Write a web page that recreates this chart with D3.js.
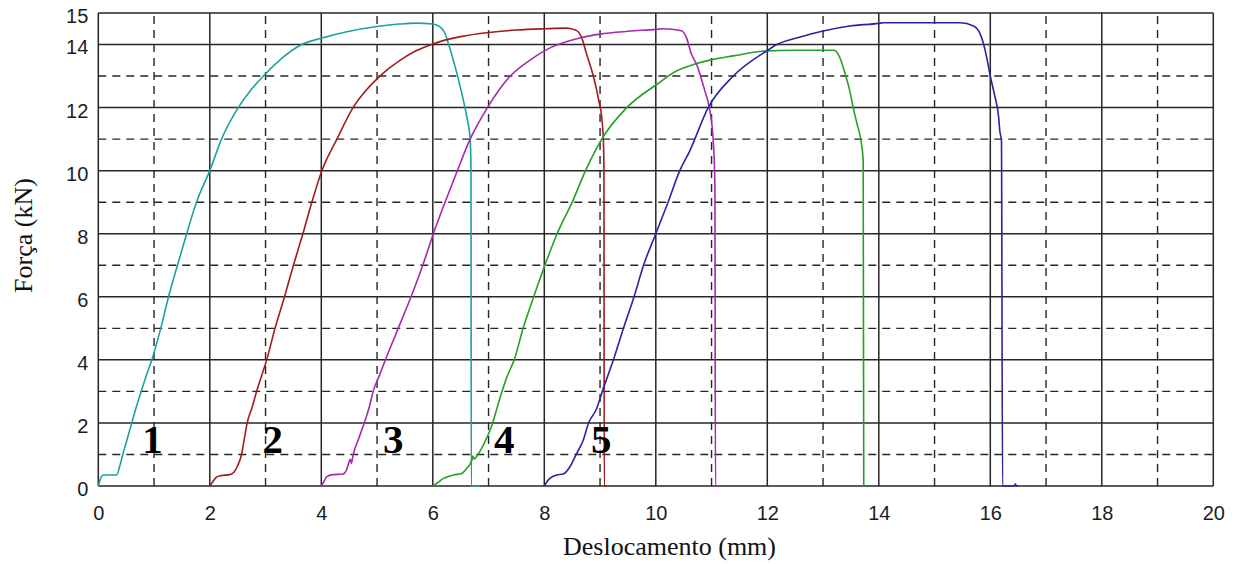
<!DOCTYPE html>
<html>
<head>
<meta charset="utf-8">
<script src="https://cdn.jsdelivr.net/npm/d3@7"></script>
<style>
  html, body { margin: 0; padding: 0; background: #fff; }
  svg { display: block; }
</style>
</head>
<body>
<svg id="chart" width="1242" height="564"></svg>
<script>
// Força × deslocamento — ensaios 1 a 5 (x em mm, y em kN)
const ensaio1 = [[0,0],[0.02,0.12],[0.05,0.28],[0.09,0.35],[0.33,0.35],[0.38,0.6],[0.44,1.0],[0.52,1.5],[0.6,2.0],[0.68,2.5],[0.77,3.0],[0.86,3.5],[0.96,4.0],[1.12,5.0],[1.26,6.0],[1.42,7.0],[1.585,8.0],[1.76,9.0],[2.0,10.0],[2.21,11.0],[2.51,12.0],[2.72,12.52],[2.96,13.0],[3.25,13.5],[3.65,14.0],[4.0,14.2],[4.5,14.42],[5.0,14.57],[5.4,14.65],[5.7,14.68],[6.0,14.65],[6.13,14.56],[6.22,14.35],[6.28,14.03],[6.4,13.3],[6.52,12.45],[6.61,11.7],[6.67,11.0],[6.685,10.1],[6.69,0],[6.85,0]];
const ensaio2 = [[2.0,0],[2.06,0.15],[2.12,0.28],[2.2,0.33],[2.36,0.36],[2.44,0.45],[2.5,0.65],[2.57,1.0],[2.62,1.5],[2.67,2.0],[2.76,2.5],[2.84,3.0],[2.93,3.5],[3.02,4.0],[3.17,5.0],[3.34,6.0],[3.5,7.0],[3.67,8.0],[3.83,9.0],[4.01,10.0],[4.28,11.0],[4.57,12.0],[4.78,12.5],[5.05,13.0],[5.41,13.5],[5.7,13.8],[6.0,14.02],[6.5,14.25],[7.0,14.38],[7.5,14.46],[8.0,14.5],[8.4,14.52],[8.58,14.44],[8.67,14.22],[8.76,13.69],[8.88,13.0],[8.98,12.2],[9.03,11.69],[9.06,10.95],[9.07,10.0],[9.075,0],[9.12,0]];
const ensaio3 = [[4.0,0],[4.05,0.15],[4.1,0.3],[4.2,0.36],[4.39,0.38],[4.45,0.5],[4.48,0.66],[4.52,0.85],[4.54,0.72],[4.57,0.98],[4.67,1.5],[4.77,2.0],[4.86,2.5],[4.93,3.0],[5.04,3.5],[5.15,4.0],[5.38,5.0],[5.61,6.0],[5.82,7.0],[6.01,8.0],[6.22,9.0],[6.44,10.0],[6.67,11.0],[6.98,12.0],[7.39,13.0],[7.7,13.45],[8.0,13.8],[8.67,14.22],[9.0,14.33],[9.5,14.42],[10.0,14.48],[10.13,14.5],[10.46,14.44],[10.55,14.22],[10.64,13.69],[10.73,13.38],[10.88,12.53],[10.96,12.0],[11.03,10.95],[11.06,9.6],[11.07,0],[11.15,0]];
const ensaio4 = [[6.0,0],[6.1,0.12],[6.19,0.24],[6.37,0.35],[6.52,0.4],[6.61,0.56],[6.7,0.82],[6.72,0.95],[6.74,0.86],[6.82,1.03],[6.95,1.46],[7.06,1.93],[7.15,2.46],[7.23,2.93],[7.33,3.46],[7.46,4.0],[7.62,5.0],[7.81,6.0],[8.01,7.0],[8.23,8.0],[8.5,9.0],[8.74,10.0],[8.92,10.65],[9.03,11.0],[9.48,12.0],[10.02,12.74],[10.37,13.16],[10.7,13.38],[11.03,13.53],[11.39,13.64],[11.99,13.8],[12.5,13.82],[13.2,13.82],[13.3,13.59],[13.39,13.11],[13.48,12.53],[13.54,12.0],[13.61,11.48],[13.68,10.95],[13.72,10.32],[13.73,0]];
const ensaio5 = [[8.0,0],[8.05,0.14],[8.1,0.24],[8.22,0.35],[8.34,0.38],[8.46,0.61],[8.58,1.03],[8.7,1.46],[8.79,1.98],[8.94,2.46],[9.04,3.0],[9.24,4.0],[9.42,5.0],[9.61,6.0],[9.78,7.0],[10.0,8.0],[10.22,9.0],[10.43,10.0],[10.61,10.63],[10.94,12.0],[11.39,13.0],[11.99,13.8],[12.17,14.0],[12.59,14.24],[13.0,14.43],[13.48,14.59],[14.0,14.67],[14.08,14.69],[15.46,14.69],[15.7,14.59],[15.82,14.33],[15.91,13.8],[16.0,13.0],[16.08,12.37],[16.15,11.69],[16.17,11.27],[16.2,10.95],[16.22,0],[16.43,0],[16.45,0.06],[16.47,0],[16.5,0]];

const seriesNames = ["1", "2", "3", "4", "5"];
const seriesData = [ensaio1, ensaio2, ensaio3, ensaio4, ensaio5];
const seriesColors = ["#1fa0a0", "#a31c1c", "#a52aae", "#24a024", "#2626a0"];

// rótulos numéricos das curvas (posição em mm, kN)
const labelX = [0.97, 3.13, 5.29, 7.28, 9.02];
const labelY = [1.04, 1.04, 1.04, 1.04, 1.04];

const xTicks = [0, 2, 4, 6, 8, 10, 12, 14, 16, 18, 20];
const xMinor = [1, 3, 5, 7, 9, 11, 13, 15, 17, 19];
const yTicks = [0, 2, 4, 6, 8, 10, 12, 14, 15];
const yMinor = [1, 3, 5, 7, 9, 11, 13];

const xTitle = "Deslocamento (mm)";
const yTitle = "Força (kN)";

const svg = d3.select("#chart");
const x = d3.scaleLinear().domain([0, 20]).range([98.3, 1213.3]);
const y = d3.scaleLinear().domain([0, 15]).range([486, 13]);

const gridColor = "#262626";
const grid = svg.append("g");

// grade tracejada
grid.selectAll("line.hmin").data(yMinor).join("line")
  .attr("x1", x(0)).attr("x2", x(20))
  .attr("y1", d => y(d)).attr("y2", d => y(d))
  .attr("stroke", gridColor).attr("stroke-width", 1.4).attr("stroke-dasharray", "8,6");
grid.selectAll("line.vmin").data(xMinor).join("line")
  .attr("y1", y(0)).attr("y2", y(15))
  .attr("x1", d => x(d)).attr("x2", d => x(d))
  .attr("stroke", gridColor).attr("stroke-width", 1.4).attr("stroke-dasharray", "8,6");

// grade contínua
grid.selectAll("line.hmaj").data(yTicks).join("line")
  .attr("x1", x(0)).attr("x2", x(20))
  .attr("y1", d => y(d)).attr("y2", d => y(d))
  .attr("stroke", gridColor).attr("stroke-width", 1.5);
grid.selectAll("line.vmaj").data(xTicks).join("line")
  .attr("y1", y(0)).attr("y2", y(15))
  .attr("x1", d => x(d)).attr("x2", d => x(d))
  .attr("stroke", gridColor).attr("stroke-width", 1.5);

// curvas (deslocamento sempre crescente → interpolação monotônica em x)
const line = d3.line().x(d => x(d[0])).y(d => y(d[1])).curve(d3.curveMonotoneX);
svg.append("g").selectAll("path").data(seriesData).join("path")
  .attr("d", line)
  .attr("fill", "none")
  .attr("stroke", (d, i) => seriesColors[i])
  .attr("stroke-width", 1.6)
  .attr("stroke-linejoin", "round");

// eixos (apenas os rótulos)
const xAxis = svg.append("g").attr("transform", `translate(0,${y(0)})`)
  .call(d3.axisBottom(x).tickValues(xTicks).tickSize(0).tickPadding(20).tickFormat(d3.format("d")));
const yAxis = svg.append("g").attr("transform", `translate(${x(0)},0)`)
  .call(d3.axisLeft(y).tickValues(yTicks).tickSize(0).tickPadding(10).tickFormat(d3.format("d")));
[xAxis, yAxis].forEach(g => {
  g.select(".domain").remove();
  g.selectAll("text")
    .attr("font-family", "'Liberation Sans', Arial, sans-serif")
    .attr("font-size", 20)
    .attr("fill", "#1c1c24");
});
yAxis.selectAll("text").attr("dy", "0.47em");

// títulos dos eixos
svg.append("text")
  .attr("x", 669.5).attr("y", 555)
  .attr("text-anchor", "middle")
  .attr("font-family", "'Liberation Serif', 'Times New Roman', serif")
  .attr("font-size", 26).attr("fill", "#111")
  .text(xTitle);
svg.append("text")
  .attr("transform", "translate(32,235.5) rotate(-90)")
  .attr("text-anchor", "middle")
  .attr("font-family", "'Liberation Serif', 'Times New Roman', serif")
  .attr("font-size", 26).attr("fill", "#111")
  .text(yTitle);

// números das curvas
svg.append("g").selectAll("text").data(seriesNames).join("text")
  .attr("x", (d, i) => x(labelX[i]))
  .attr("y", (d, i) => y(labelY[i]))
  .attr("text-anchor", "middle")
  .attr("font-family", "'Liberation Serif', 'Times New Roman', serif")
  .attr("font-weight", "bold")
  .attr("font-size", 41)
  .attr("fill", "#000")
  .text(d => d);
</script>
</body>
</html>
